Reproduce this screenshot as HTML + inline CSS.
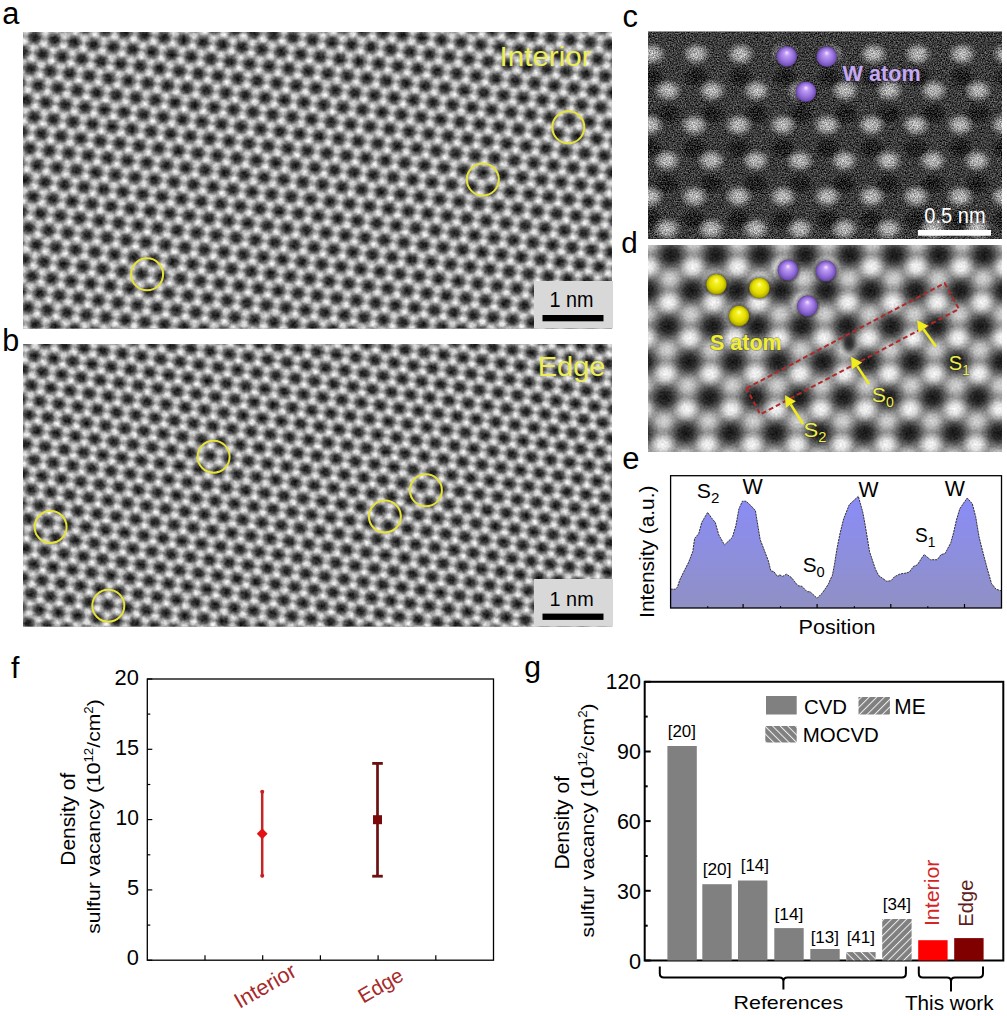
<!DOCTYPE html>
<html><head><meta charset="utf-8"><style>html,body{margin:0;padding:0;background:#fff;overflow:hidden}svg{display:block}</style></head>
<body><svg width="1007" height="1016" viewBox="0 0 1007 1016">
<defs>
<radialGradient id="pah"><stop offset="0" stop-color="#000" stop-opacity="0.85"/><stop offset="0.35" stop-color="#000" stop-opacity="0.72"/><stop offset="0.7" stop-color="#000" stop-opacity="0.3"/><stop offset="1" stop-color="#000" stop-opacity="0"/></radialGradient><radialGradient id="paw"><stop offset="0" stop-color="#fff" stop-opacity="0.9"/><stop offset="0.3" stop-color="#fff" stop-opacity="0.7"/><stop offset="0.65" stop-color="#fff" stop-opacity="0.25"/><stop offset="1" stop-color="#fff" stop-opacity="0"/></radialGradient><radialGradient id="pas"><stop offset="0" stop-color="#fff" stop-opacity="0.7"/><stop offset="0.3" stop-color="#fff" stop-opacity="0.55"/><stop offset="0.65" stop-color="#fff" stop-opacity="0.2"/><stop offset="1" stop-color="#fff" stop-opacity="0"/></radialGradient>
<pattern id="pa" patternUnits="userSpaceOnUse" width="1.0" height="1.732051" patternTransform="matrix(19.5200 2.4200 -2.4711 18.1173 34.900 37.400)">
<rect width="1.0" height="1.732051" fill="#9c9c9c"/>
<circle cx="0.0000" cy="1.7321" r="0.45" fill="url(#pah)"/>
<circle cx="0.0000" cy="0.0000" r="0.45" fill="url(#pah)"/>
<circle cx="0.5000" cy="0.8660" r="0.45" fill="url(#pah)"/>
<circle cx="1.0000" cy="1.7321" r="0.45" fill="url(#pah)"/>
<circle cx="1.0000" cy="0.0000" r="0.45" fill="url(#pah)"/>
<circle cx="0.0000" cy="0.5774" r="0.3" fill="url(#pas)"/>
<circle cx="0.5000" cy="1.4434" r="0.3" fill="url(#pas)"/>
<circle cx="0.5000" cy="-0.2887" r="0.3" fill="url(#pas)"/>
<circle cx="1.0000" cy="0.5774" r="0.3" fill="url(#pas)"/>
<circle cx="0.0000" cy="1.1547" r="0.3" fill="url(#paw)"/>
<circle cx="0.5000" cy="2.0207" r="0.3" fill="url(#paw)"/>
<circle cx="0.5000" cy="0.2887" r="0.3" fill="url(#paw)"/>
<circle cx="1.0000" cy="1.1547" r="0.3" fill="url(#paw)"/>
</pattern>
<radialGradient id="pbh"><stop offset="0" stop-color="#000" stop-opacity="0.85"/><stop offset="0.35" stop-color="#000" stop-opacity="0.72"/><stop offset="0.7" stop-color="#000" stop-opacity="0.3"/><stop offset="1" stop-color="#000" stop-opacity="0"/></radialGradient><radialGradient id="pbw"><stop offset="0" stop-color="#fff" stop-opacity="0.9"/><stop offset="0.3" stop-color="#fff" stop-opacity="0.7"/><stop offset="0.65" stop-color="#fff" stop-opacity="0.25"/><stop offset="1" stop-color="#fff" stop-opacity="0"/></radialGradient><radialGradient id="pbs"><stop offset="0" stop-color="#fff" stop-opacity="0.7"/><stop offset="0.3" stop-color="#fff" stop-opacity="0.55"/><stop offset="0.65" stop-color="#fff" stop-opacity="0.2"/><stop offset="1" stop-color="#fff" stop-opacity="0"/></radialGradient>
<pattern id="pb" patternUnits="userSpaceOnUse" width="1.0" height="1.732051" patternTransform="matrix(19.2200 2.7600 -1.6281 16.9741 34.300 355.900)">
<rect width="1.0" height="1.732051" fill="#9c9c9c"/>
<circle cx="0.0000" cy="1.7321" r="0.45" fill="url(#pbh)"/>
<circle cx="0.0000" cy="0.0000" r="0.45" fill="url(#pbh)"/>
<circle cx="0.5000" cy="0.8660" r="0.45" fill="url(#pbh)"/>
<circle cx="1.0000" cy="1.7321" r="0.45" fill="url(#pbh)"/>
<circle cx="1.0000" cy="0.0000" r="0.45" fill="url(#pbh)"/>
<circle cx="0.0000" cy="0.5774" r="0.3" fill="url(#pbs)"/>
<circle cx="0.5000" cy="1.4434" r="0.3" fill="url(#pbs)"/>
<circle cx="0.5000" cy="-0.2887" r="0.3" fill="url(#pbs)"/>
<circle cx="1.0000" cy="0.5774" r="0.3" fill="url(#pbs)"/>
<circle cx="0.0000" cy="1.1547" r="0.3" fill="url(#pbw)"/>
<circle cx="0.5000" cy="2.0207" r="0.3" fill="url(#pbw)"/>
<circle cx="0.5000" cy="0.2887" r="0.3" fill="url(#pbw)"/>
<circle cx="1.0000" cy="1.1547" r="0.3" fill="url(#pbw)"/>
</pattern>
<radialGradient id="pdh"><stop offset="0" stop-color="#000" stop-opacity="0.85"/><stop offset="0.35" stop-color="#000" stop-opacity="0.7"/><stop offset="0.7" stop-color="#000" stop-opacity="0.25"/><stop offset="1" stop-color="#000" stop-opacity="0"/></radialGradient><radialGradient id="pdw"><stop offset="0" stop-color="#fff" stop-opacity="0.92"/><stop offset="0.35" stop-color="#fff" stop-opacity="0.75"/><stop offset="0.7" stop-color="#fff" stop-opacity="0.28"/><stop offset="1" stop-color="#fff" stop-opacity="0"/></radialGradient><radialGradient id="pds"><stop offset="0" stop-color="#fff" stop-opacity="0.6"/><stop offset="0.35" stop-color="#fff" stop-opacity="0.45"/><stop offset="0.7" stop-color="#fff" stop-opacity="0.15"/><stop offset="1" stop-color="#fff" stop-opacity="0"/></radialGradient>
<pattern id="pd" patternUnits="userSpaceOnUse" width="1.0" height="1.732051" patternTransform="matrix(44.7000 0.0000 -1.7898 41.1073 671.000 255.000)">
<rect width="1.0" height="1.732051" fill="#8e8e8e"/>
<circle cx="0.0000" cy="1.7321" r="0.43" fill="url(#pdh)"/>
<circle cx="0.0000" cy="0.0000" r="0.43" fill="url(#pdh)"/>
<circle cx="0.5000" cy="0.8660" r="0.43" fill="url(#pdh)"/>
<circle cx="1.0000" cy="1.7321" r="0.43" fill="url(#pdh)"/>
<circle cx="1.0000" cy="0.0000" r="0.43" fill="url(#pdh)"/>
<circle cx="0.0000" cy="0.5774" r="0.3" fill="url(#pds)"/>
<circle cx="0.5000" cy="1.4434" r="0.3" fill="url(#pds)"/>
<circle cx="0.5000" cy="-0.2887" r="0.3" fill="url(#pds)"/>
<circle cx="1.0000" cy="0.5774" r="0.3" fill="url(#pds)"/>
<circle cx="0.0000" cy="1.1547" r="0.32" fill="url(#pdw)"/>
<circle cx="0.5000" cy="2.0207" r="0.32" fill="url(#pdw)"/>
<circle cx="0.5000" cy="0.2887" r="0.32" fill="url(#pdw)"/>
<circle cx="1.0000" cy="1.1547" r="0.32" fill="url(#pdw)"/>
</pattern>
<radialGradient id="gSh"><stop offset="0.7" stop-color="#000" stop-opacity="0.45"/><stop offset="1" stop-color="#000" stop-opacity="0"/></radialGradient>
<radialGradient id="gP" cx="0.5" cy="0.5" r="0.5" fx="0.5" fy="0.3"><stop offset="0" stop-color="#f6e8ff"/><stop offset="0.25" stop-color="#c09cf4"/><stop offset="0.65" stop-color="#9670dc"/><stop offset="0.9" stop-color="#7452b8"/><stop offset="1" stop-color="#5a3c96"/></radialGradient>
<radialGradient id="gY" cx="0.5" cy="0.5" r="0.5" fx="0.5" fy="0.3"><stop offset="0" stop-color="#ffffc0"/><stop offset="0.25" stop-color="#f6f220"/><stop offset="0.65" stop-color="#e2dc00"/><stop offset="0.9" stop-color="#b8b000"/><stop offset="1" stop-color="#807800"/></radialGradient>
<radialGradient id="gHoleC"><stop offset="0" stop-color="#000" stop-opacity="0.55"/><stop offset="0.6" stop-color="#000" stop-opacity="0.38"/><stop offset="1" stop-color="#000" stop-opacity="0"/></radialGradient>
<radialGradient id="gBlob"><stop offset="0" stop-color="#fff" stop-opacity="0.66"/><stop offset="0.4" stop-color="#fff" stop-opacity="0.52"/><stop offset="0.75" stop-color="#fff" stop-opacity="0.2"/><stop offset="1" stop-color="#fff" stop-opacity="0"/></radialGradient>
<filter id="noise" x="648" y="31.5" width="354" height="207.5" filterUnits="userSpaceOnUse" color-interpolation-filters="sRGB"><feTurbulence type="fractalNoise" baseFrequency="0.75" numOctaves="2" seed="7" result="t"/><feColorMatrix in="t" type="matrix" values="1 0 0 0 0  1 0 0 0 0  1 0 0 0 0  0 0 0 0 1" result="g"/><feGaussianBlur in="g" stdDeviation="0.35" result="gb"/><feComposite in="SourceGraphic" in2="gb" operator="arithmetic" k1="0" k2="1" k3="0.85" k4="-0.425"/></filter>
<linearGradient id="gCurve" gradientUnits="userSpaceOnUse" x1="0" y1="496" x2="0" y2="608"><stop offset="0" stop-color="#8a8cf8"/><stop offset="1" stop-color="#9090c4"/></linearGradient>
<pattern id="hME" patternUnits="userSpaceOnUse" width="5.4" height="8" patternTransform="rotate(45)"><rect width="5.4" height="8" fill="#808080"/><rect x="0" y="0" width="1" height="8" fill="#f0f0f0"/></pattern>
<pattern id="hMO" patternUnits="userSpaceOnUse" width="5.4" height="8" patternTransform="rotate(-45)"><rect width="5.4" height="8" fill="#808080"/><rect x="0" y="0" width="1" height="8" fill="#f0f0f0"/></pattern>
<filter id="nA" x="23" y="32" width="589" height="296.5" filterUnits="userSpaceOnUse" color-interpolation-filters="sRGB"><feTurbulence type="fractalNoise" baseFrequency="0.35" numOctaves="2" seed="11" result="t"/><feColorMatrix in="t" type="matrix" values="1 0 0 0 0  1 0 0 0 0  1 0 0 0 0  0 0 0 0 1" result="g"/><feComposite in="SourceGraphic" in2="g" operator="arithmetic" k1="0" k2="1" k3="0.28" k4="-0.14"/></filter>
<filter id="nB" x="23" y="344" width="589" height="282.5" filterUnits="userSpaceOnUse" color-interpolation-filters="sRGB"><feTurbulence type="fractalNoise" baseFrequency="0.35" numOctaves="2" seed="23" result="t"/><feColorMatrix in="t" type="matrix" values="1 0 0 0 0  1 0 0 0 0  1 0 0 0 0  0 0 0 0 1" result="g"/><feComposite in="SourceGraphic" in2="g" operator="arithmetic" k1="0" k2="1" k3="0.28" k4="-0.14"/></filter>
<clipPath id="clipC"><rect x="648" y="31.5" width="354" height="207.5"/></clipPath>
<filter id="nD" x="648" y="245" width="354" height="207" filterUnits="userSpaceOnUse" color-interpolation-filters="sRGB"><feTurbulence type="fractalNoise" baseFrequency="0.5" numOctaves="2" seed="5" result="t"/><feColorMatrix in="t" type="matrix" values="1 0 0 0 0  1 0 0 0 0  1 0 0 0 0  0 0 0 0 1" result="g"/><feComposite in="SourceGraphic" in2="g" operator="arithmetic" k1="0" k2="1" k3="0.2" k4="-0.1"/></filter>
</defs>
<rect x="23" y="32" width="589" height="296.5" fill="url(#pa)" filter="url(#nA)"/>
<rect x="23" y="344" width="589" height="282.5" fill="url(#pb)" filter="url(#nB)"/>
<circle cx="568.3" cy="127.3" r="16" fill="none" stroke="#e6e23a" stroke-width="2"/>
<circle cx="482.8" cy="179.6" r="16" fill="none" stroke="#e6e23a" stroke-width="2"/>
<circle cx="147.1" cy="274.3" r="16" fill="none" stroke="#e6e23a" stroke-width="2"/>
<circle cx="213.6" cy="456.7" r="16" fill="none" stroke="#e6e23a" stroke-width="2"/>
<circle cx="50.6" cy="527" r="16" fill="none" stroke="#e6e23a" stroke-width="2"/>
<circle cx="384.9" cy="516.5" r="16" fill="none" stroke="#e6e23a" stroke-width="2"/>
<circle cx="425.9" cy="490.3" r="16" fill="none" stroke="#e6e23a" stroke-width="2"/>
<circle cx="108.3" cy="605.7" r="16" fill="none" stroke="#e6e23a" stroke-width="2"/>
<rect x="534" y="281" width="79" height="47.5" fill="#d8d8d8"/>
<rect x="542.5" y="315" width="61" height="6.3" fill="#000"/>
<rect x="534" y="579" width="79" height="47.5" fill="#d8d8d8"/>
<rect x="542.5" y="613.6" width="61" height="6.3" fill="#000"/>
<g clip-path="url(#clipC)"><g filter="url(#noise)">
<rect x="648" y="31.5" width="354" height="207.5" fill="#3c3c3c"/>
<ellipse cx="563.4" cy="54" rx="15" ry="12" fill="url(#gBlob)"/>
<ellipse cx="563.4" cy="77.3" rx="14" ry="11" fill="url(#gHoleC)"/>
<ellipse cx="607.7" cy="54" rx="15" ry="12" fill="url(#gBlob)"/>
<ellipse cx="607.7" cy="77.3" rx="14" ry="11" fill="url(#gHoleC)"/>
<ellipse cx="652.0" cy="54" rx="15" ry="12" fill="url(#gBlob)"/>
<ellipse cx="652.0" cy="77.3" rx="14" ry="11" fill="url(#gHoleC)"/>
<ellipse cx="696.3" cy="54" rx="15" ry="12" fill="url(#gBlob)"/>
<ellipse cx="696.3" cy="77.3" rx="14" ry="11" fill="url(#gHoleC)"/>
<ellipse cx="740.6" cy="54" rx="15" ry="12" fill="url(#gBlob)"/>
<ellipse cx="740.6" cy="77.3" rx="14" ry="11" fill="url(#gHoleC)"/>
<ellipse cx="784.9" cy="54" rx="15" ry="12" fill="url(#gBlob)"/>
<ellipse cx="784.9" cy="77.3" rx="14" ry="11" fill="url(#gHoleC)"/>
<ellipse cx="829.2" cy="54" rx="15" ry="12" fill="url(#gBlob)"/>
<ellipse cx="829.2" cy="77.3" rx="14" ry="11" fill="url(#gHoleC)"/>
<ellipse cx="873.5" cy="54" rx="15" ry="12" fill="url(#gBlob)"/>
<ellipse cx="873.5" cy="77.3" rx="14" ry="11" fill="url(#gHoleC)"/>
<ellipse cx="917.8" cy="54" rx="15" ry="12" fill="url(#gBlob)"/>
<ellipse cx="917.8" cy="77.3" rx="14" ry="11" fill="url(#gHoleC)"/>
<ellipse cx="962.1" cy="54" rx="15" ry="12" fill="url(#gBlob)"/>
<ellipse cx="962.1" cy="77.3" rx="14" ry="11" fill="url(#gHoleC)"/>
<ellipse cx="1006.4" cy="54" rx="15" ry="12" fill="url(#gBlob)"/>
<ellipse cx="1006.4" cy="77.3" rx="14" ry="11" fill="url(#gHoleC)"/>
<ellipse cx="579.4" cy="90.5" rx="15" ry="12" fill="url(#gBlob)"/>
<ellipse cx="579.4" cy="113.8" rx="14" ry="11" fill="url(#gHoleC)"/>
<ellipse cx="623.7" cy="90.5" rx="15" ry="12" fill="url(#gBlob)"/>
<ellipse cx="623.7" cy="113.8" rx="14" ry="11" fill="url(#gHoleC)"/>
<ellipse cx="668.0" cy="90.5" rx="15" ry="12" fill="url(#gBlob)"/>
<ellipse cx="668.0" cy="113.8" rx="14" ry="11" fill="url(#gHoleC)"/>
<ellipse cx="712.3" cy="90.5" rx="15" ry="12" fill="url(#gBlob)"/>
<ellipse cx="712.3" cy="113.8" rx="14" ry="11" fill="url(#gHoleC)"/>
<ellipse cx="756.6" cy="90.5" rx="15" ry="12" fill="url(#gBlob)"/>
<ellipse cx="756.6" cy="113.8" rx="14" ry="11" fill="url(#gHoleC)"/>
<ellipse cx="800.9" cy="90.5" rx="15" ry="12" fill="url(#gBlob)"/>
<ellipse cx="800.9" cy="113.8" rx="14" ry="11" fill="url(#gHoleC)"/>
<ellipse cx="845.2" cy="90.5" rx="15" ry="12" fill="url(#gBlob)"/>
<ellipse cx="845.2" cy="113.8" rx="14" ry="11" fill="url(#gHoleC)"/>
<ellipse cx="889.5" cy="90.5" rx="15" ry="12" fill="url(#gBlob)"/>
<ellipse cx="889.5" cy="113.8" rx="14" ry="11" fill="url(#gHoleC)"/>
<ellipse cx="933.8" cy="90.5" rx="15" ry="12" fill="url(#gBlob)"/>
<ellipse cx="933.8" cy="113.8" rx="14" ry="11" fill="url(#gHoleC)"/>
<ellipse cx="978.1" cy="90.5" rx="15" ry="12" fill="url(#gBlob)"/>
<ellipse cx="978.1" cy="113.8" rx="14" ry="11" fill="url(#gHoleC)"/>
<ellipse cx="1022.4" cy="90.5" rx="15" ry="12" fill="url(#gBlob)"/>
<ellipse cx="1022.4" cy="113.8" rx="14" ry="11" fill="url(#gHoleC)"/>
<ellipse cx="561.4" cy="125" rx="15" ry="12" fill="url(#gBlob)"/>
<ellipse cx="561.4" cy="148.3" rx="14" ry="11" fill="url(#gHoleC)"/>
<ellipse cx="605.7" cy="125" rx="15" ry="12" fill="url(#gBlob)"/>
<ellipse cx="605.7" cy="148.3" rx="14" ry="11" fill="url(#gHoleC)"/>
<ellipse cx="650.0" cy="125" rx="15" ry="12" fill="url(#gBlob)"/>
<ellipse cx="650.0" cy="148.3" rx="14" ry="11" fill="url(#gHoleC)"/>
<ellipse cx="694.3" cy="125" rx="15" ry="12" fill="url(#gBlob)"/>
<ellipse cx="694.3" cy="148.3" rx="14" ry="11" fill="url(#gHoleC)"/>
<ellipse cx="738.6" cy="125" rx="15" ry="12" fill="url(#gBlob)"/>
<ellipse cx="738.6" cy="148.3" rx="14" ry="11" fill="url(#gHoleC)"/>
<ellipse cx="782.9" cy="125" rx="15" ry="12" fill="url(#gBlob)"/>
<ellipse cx="782.9" cy="148.3" rx="14" ry="11" fill="url(#gHoleC)"/>
<ellipse cx="827.2" cy="125" rx="15" ry="12" fill="url(#gBlob)"/>
<ellipse cx="827.2" cy="148.3" rx="14" ry="11" fill="url(#gHoleC)"/>
<ellipse cx="871.5" cy="125" rx="15" ry="12" fill="url(#gBlob)"/>
<ellipse cx="871.5" cy="148.3" rx="14" ry="11" fill="url(#gHoleC)"/>
<ellipse cx="915.8" cy="125" rx="15" ry="12" fill="url(#gBlob)"/>
<ellipse cx="915.8" cy="148.3" rx="14" ry="11" fill="url(#gHoleC)"/>
<ellipse cx="960.1" cy="125" rx="15" ry="12" fill="url(#gBlob)"/>
<ellipse cx="960.1" cy="148.3" rx="14" ry="11" fill="url(#gHoleC)"/>
<ellipse cx="1004.4" cy="125" rx="15" ry="12" fill="url(#gBlob)"/>
<ellipse cx="1004.4" cy="148.3" rx="14" ry="11" fill="url(#gHoleC)"/>
<ellipse cx="578.4" cy="160.6" rx="15" ry="12" fill="url(#gBlob)"/>
<ellipse cx="578.4" cy="183.9" rx="14" ry="11" fill="url(#gHoleC)"/>
<ellipse cx="622.7" cy="160.6" rx="15" ry="12" fill="url(#gBlob)"/>
<ellipse cx="622.7" cy="183.9" rx="14" ry="11" fill="url(#gHoleC)"/>
<ellipse cx="667.0" cy="160.6" rx="15" ry="12" fill="url(#gBlob)"/>
<ellipse cx="667.0" cy="183.9" rx="14" ry="11" fill="url(#gHoleC)"/>
<ellipse cx="711.3" cy="160.6" rx="15" ry="12" fill="url(#gBlob)"/>
<ellipse cx="711.3" cy="183.9" rx="14" ry="11" fill="url(#gHoleC)"/>
<ellipse cx="755.6" cy="160.6" rx="15" ry="12" fill="url(#gBlob)"/>
<ellipse cx="755.6" cy="183.9" rx="14" ry="11" fill="url(#gHoleC)"/>
<ellipse cx="799.9" cy="160.6" rx="15" ry="12" fill="url(#gBlob)"/>
<ellipse cx="799.9" cy="183.9" rx="14" ry="11" fill="url(#gHoleC)"/>
<ellipse cx="844.2" cy="160.6" rx="15" ry="12" fill="url(#gBlob)"/>
<ellipse cx="844.2" cy="183.9" rx="14" ry="11" fill="url(#gHoleC)"/>
<ellipse cx="888.5" cy="160.6" rx="15" ry="12" fill="url(#gBlob)"/>
<ellipse cx="888.5" cy="183.9" rx="14" ry="11" fill="url(#gHoleC)"/>
<ellipse cx="932.8" cy="160.6" rx="15" ry="12" fill="url(#gBlob)"/>
<ellipse cx="932.8" cy="183.9" rx="14" ry="11" fill="url(#gHoleC)"/>
<ellipse cx="977.1" cy="160.6" rx="15" ry="12" fill="url(#gBlob)"/>
<ellipse cx="977.1" cy="183.9" rx="14" ry="11" fill="url(#gHoleC)"/>
<ellipse cx="1021.4" cy="160.6" rx="15" ry="12" fill="url(#gBlob)"/>
<ellipse cx="1021.4" cy="183.9" rx="14" ry="11" fill="url(#gHoleC)"/>
<ellipse cx="561.4" cy="196.5" rx="15" ry="12" fill="url(#gBlob)"/>
<ellipse cx="561.4" cy="219.8" rx="14" ry="11" fill="url(#gHoleC)"/>
<ellipse cx="605.7" cy="196.5" rx="15" ry="12" fill="url(#gBlob)"/>
<ellipse cx="605.7" cy="219.8" rx="14" ry="11" fill="url(#gHoleC)"/>
<ellipse cx="650.0" cy="196.5" rx="15" ry="12" fill="url(#gBlob)"/>
<ellipse cx="650.0" cy="219.8" rx="14" ry="11" fill="url(#gHoleC)"/>
<ellipse cx="694.3" cy="196.5" rx="15" ry="12" fill="url(#gBlob)"/>
<ellipse cx="694.3" cy="219.8" rx="14" ry="11" fill="url(#gHoleC)"/>
<ellipse cx="738.6" cy="196.5" rx="15" ry="12" fill="url(#gBlob)"/>
<ellipse cx="738.6" cy="219.8" rx="14" ry="11" fill="url(#gHoleC)"/>
<ellipse cx="782.9" cy="196.5" rx="15" ry="12" fill="url(#gBlob)"/>
<ellipse cx="782.9" cy="219.8" rx="14" ry="11" fill="url(#gHoleC)"/>
<ellipse cx="827.2" cy="196.5" rx="15" ry="12" fill="url(#gBlob)"/>
<ellipse cx="827.2" cy="219.8" rx="14" ry="11" fill="url(#gHoleC)"/>
<ellipse cx="871.5" cy="196.5" rx="15" ry="12" fill="url(#gBlob)"/>
<ellipse cx="871.5" cy="219.8" rx="14" ry="11" fill="url(#gHoleC)"/>
<ellipse cx="915.8" cy="196.5" rx="15" ry="12" fill="url(#gBlob)"/>
<ellipse cx="915.8" cy="219.8" rx="14" ry="11" fill="url(#gHoleC)"/>
<ellipse cx="960.1" cy="196.5" rx="15" ry="12" fill="url(#gBlob)"/>
<ellipse cx="960.1" cy="219.8" rx="14" ry="11" fill="url(#gHoleC)"/>
<ellipse cx="1004.4" cy="196.5" rx="15" ry="12" fill="url(#gBlob)"/>
<ellipse cx="1004.4" cy="219.8" rx="14" ry="11" fill="url(#gHoleC)"/>
<ellipse cx="578.4" cy="228.8" rx="15" ry="12" fill="url(#gBlob)"/>
<ellipse cx="578.4" cy="252.1" rx="14" ry="11" fill="url(#gHoleC)"/>
<ellipse cx="622.7" cy="228.8" rx="15" ry="12" fill="url(#gBlob)"/>
<ellipse cx="622.7" cy="252.1" rx="14" ry="11" fill="url(#gHoleC)"/>
<ellipse cx="667.0" cy="228.8" rx="15" ry="12" fill="url(#gBlob)"/>
<ellipse cx="667.0" cy="252.1" rx="14" ry="11" fill="url(#gHoleC)"/>
<ellipse cx="711.3" cy="228.8" rx="15" ry="12" fill="url(#gBlob)"/>
<ellipse cx="711.3" cy="252.1" rx="14" ry="11" fill="url(#gHoleC)"/>
<ellipse cx="755.6" cy="228.8" rx="15" ry="12" fill="url(#gBlob)"/>
<ellipse cx="755.6" cy="252.1" rx="14" ry="11" fill="url(#gHoleC)"/>
<ellipse cx="799.9" cy="228.8" rx="15" ry="12" fill="url(#gBlob)"/>
<ellipse cx="799.9" cy="252.1" rx="14" ry="11" fill="url(#gHoleC)"/>
<ellipse cx="844.2" cy="228.8" rx="15" ry="12" fill="url(#gBlob)"/>
<ellipse cx="844.2" cy="252.1" rx="14" ry="11" fill="url(#gHoleC)"/>
<ellipse cx="888.5" cy="228.8" rx="15" ry="12" fill="url(#gBlob)"/>
<ellipse cx="888.5" cy="252.1" rx="14" ry="11" fill="url(#gHoleC)"/>
<ellipse cx="932.8" cy="228.8" rx="15" ry="12" fill="url(#gBlob)"/>
<ellipse cx="932.8" cy="252.1" rx="14" ry="11" fill="url(#gHoleC)"/>
<ellipse cx="977.1" cy="228.8" rx="15" ry="12" fill="url(#gBlob)"/>
<ellipse cx="977.1" cy="252.1" rx="14" ry="11" fill="url(#gHoleC)"/>
<ellipse cx="1021.4" cy="228.8" rx="15" ry="12" fill="url(#gBlob)"/>
<ellipse cx="1021.4" cy="252.1" rx="14" ry="11" fill="url(#gHoleC)"/>
</g></g>
<rect x="918" y="230" width="73" height="5.7" fill="#fff"/>
<circle cx="786.8" cy="56.5" r="13.5" fill="url(#gSh)"/><circle cx="786.8" cy="56.5" r="10.3" fill="url(#gP)"/>
<circle cx="826.7" cy="56.8" r="13.5" fill="url(#gSh)"/><circle cx="826.7" cy="56.8" r="10.3" fill="url(#gP)"/>
<circle cx="806" cy="91.7" r="13.5" fill="url(#gSh)"/><circle cx="806" cy="91.7" r="10.3" fill="url(#gP)"/>
<rect x="648" y="245" width="354" height="207" fill="url(#pd)" filter="url(#nD)"/>
<circle cx="716.4" cy="284.3" r="13.5" fill="url(#gSh)"/><circle cx="716.4" cy="284.3" r="10.4" fill="url(#gY)"/>
<circle cx="759.4" cy="288.1" r="13.5" fill="url(#gSh)"/><circle cx="759.4" cy="288.1" r="10.4" fill="url(#gY)"/>
<circle cx="739" cy="316" r="13.5" fill="url(#gSh)"/><circle cx="739" cy="316" r="10.4" fill="url(#gY)"/>
<circle cx="788" cy="270.2" r="13.5" fill="url(#gSh)"/><circle cx="788" cy="270.2" r="10.4" fill="url(#gP)"/>
<circle cx="826" cy="271" r="13.5" fill="url(#gSh)"/><circle cx="826" cy="271" r="10.4" fill="url(#gP)"/>
<circle cx="807.4" cy="306" r="13.5" fill="url(#gSh)"/><circle cx="807.4" cy="306" r="10.4" fill="url(#gP)"/>
<ellipse cx="849" cy="344" rx="9" ry="12" fill="url(#gHoleC)"/><ellipse cx="849" cy="344" rx="6" ry="8" fill="url(#gHoleC)"/>
<polygon points="746.5,388.3 944.6,283.2 958.9,309 760.3,414.4" fill="none" stroke="#b02a2a" stroke-width="2" stroke-dasharray="5,3"/>
<line x1="803" y1="424" x2="790.8" y2="404.5" stroke="#f0ec20" stroke-width="2.5"/><polygon points="785,395.2 795.9,401.3 785.7,407.7" fill="#f0ec20"/>
<line x1="869" y1="384" x2="857.1" y2="365.9" stroke="#f0ec20" stroke-width="2.5"/><polygon points="851,356.7 862.1,362.6 852.0,369.2" fill="#f0ec20"/>
<line x1="936" y1="346.5" x2="923.5" y2="329.2" stroke="#f0ec20" stroke-width="2.5"/><polygon points="917,320.3 928.3,325.7 918.6,332.7" fill="#f0ec20"/>
<polygon points="670.6,608 670.6,589.2 675.7,589.2 677.5,586.9 679.8,579.8 684.5,570.3 688.7,562.1 692.8,551.4 694.6,538.4 698.7,533.7 701.7,522.5 707.6,512.4 712.3,518.9 715.3,522.5 718.8,534.9 724.5,544.9 732.4,537.3 735.9,525.4 738.9,508.9 742.4,501.2 746,501.2 750.7,505.4 755.4,510.7 760.2,539.6 768.4,560.9 770.8,570.9 773.7,571.5 777.9,576.8 779.4,574.7 782.6,576.4 786.5,574.2 791.4,577.5 797.9,585.7 801.8,586.2 807.2,591.7 810,591.7 817.1,598.2 822.5,592.8 828.5,584 830,580.1 832.3,575.6 834.5,564.2 836.8,549.5 840.2,532.5 843.6,519 849.2,504.8 858.3,496.3 862.8,512.2 865.1,524.6 869.6,551.8 875.3,568.8 878.7,575.6 886.6,581.2 891.1,580.7 894.5,576.7 900.2,573.9 904.7,573.3 909.2,572.2 913.4,566.5 917.4,564.8 921.3,558.6 924.2,554.6 927,556.9 930.4,559.7 937.2,559.7 941.1,554.6 945.1,553.5 950.8,542.7 953.6,532.6 956.4,520.1 959.8,508.8 963.2,503.7 967.2,498 972.3,503.7 975.7,516.7 979.1,537.1 982.5,550.7 987,567.7 991.5,583.5 996,589.2 1001.5,590.9 1001.5,608" fill="url(#gCurve)"/>
<polyline points="670.6,589.2 675.7,589.2 677.5,586.9 679.8,579.8 684.5,570.3 688.7,562.1 692.8,551.4 694.6,538.4 698.7,533.7 701.7,522.5 707.6,512.4 712.3,518.9 715.3,522.5 718.8,534.9 724.5,544.9 732.4,537.3 735.9,525.4 738.9,508.9 742.4,501.2 746,501.2 750.7,505.4 755.4,510.7 760.2,539.6 768.4,560.9 770.8,570.9 773.7,571.5 777.9,576.8 779.4,574.7 782.6,576.4 786.5,574.2 791.4,577.5 797.9,585.7 801.8,586.2 807.2,591.7 810,591.7 817.1,598.2 822.5,592.8 828.5,584 830,580.1 832.3,575.6 834.5,564.2 836.8,549.5 840.2,532.5 843.6,519 849.2,504.8 858.3,496.3 862.8,512.2 865.1,524.6 869.6,551.8 875.3,568.8 878.7,575.6 886.6,581.2 891.1,580.7 894.5,576.7 900.2,573.9 904.7,573.3 909.2,572.2 913.4,566.5 917.4,564.8 921.3,558.6 924.2,554.6 927,556.9 930.4,559.7 937.2,559.7 941.1,554.6 945.1,553.5 950.8,542.7 953.6,532.6 956.4,520.1 959.8,508.8 963.2,503.7 967.2,498 972.3,503.7 975.7,516.7 979.1,537.1 982.5,550.7 987,567.7 991.5,583.5 996,589.2 1001.5,590.9" fill="none" stroke="#222" stroke-width="0.9" stroke-dasharray="2.2,0.8"/>
<rect x="670.6" y="475.7" width="330.9" height="132.3" fill="none" stroke="#000" stroke-width="1.3"/>
<line x1="707.7" y1="608" x2="707.7" y2="606.2" stroke="#000" stroke-width="1.2"/>
<line x1="743.1" y1="608" x2="743.1" y2="604" stroke="#000" stroke-width="1.2"/>
<line x1="780.5" y1="608" x2="780.5" y2="606.2" stroke="#000" stroke-width="1.2"/>
<line x1="817.1" y1="608" x2="817.1" y2="604" stroke="#000" stroke-width="1.2"/>
<line x1="854.4" y1="608" x2="854.4" y2="606.2" stroke="#000" stroke-width="1.2"/>
<line x1="890.8" y1="608" x2="890.8" y2="604" stroke="#000" stroke-width="1.2"/>
<line x1="927.8" y1="608" x2="927.8" y2="606.2" stroke="#000" stroke-width="1.2"/>
<line x1="964.5" y1="608" x2="964.5" y2="604" stroke="#000" stroke-width="1.2"/>
<rect x="147.3" y="679.0" width="346.2" height="281.20000000000005" fill="none" stroke="#000" stroke-width="1.3"/>
<line x1="147.3" y1="960.2" x2="152.3" y2="960.2" stroke="#000" stroke-width="1.2"/>
<line x1="147.3" y1="889.9" x2="152.3" y2="889.9" stroke="#000" stroke-width="1.2"/>
<line x1="147.3" y1="819.6" x2="152.3" y2="819.6" stroke="#000" stroke-width="1.2"/>
<line x1="147.3" y1="749.3" x2="152.3" y2="749.3" stroke="#000" stroke-width="1.2"/>
<line x1="147.3" y1="679.0" x2="152.3" y2="679.0" stroke="#000" stroke-width="1.2"/>
<line x1="147.3" y1="925.1" x2="150.3" y2="925.1" stroke="#000" stroke-width="1.2"/>
<line x1="147.3" y1="854.8" x2="150.3" y2="854.8" stroke="#000" stroke-width="1.2"/>
<line x1="147.3" y1="784.5" x2="150.3" y2="784.5" stroke="#000" stroke-width="1.2"/>
<line x1="147.3" y1="714.1" x2="150.3" y2="714.1" stroke="#000" stroke-width="1.2"/>
<line x1="205.0" y1="960.2" x2="205.0" y2="955.2" stroke="#000" stroke-width="1.2"/>
<line x1="262.7" y1="960.2" x2="262.7" y2="955.2" stroke="#000" stroke-width="1.2"/>
<line x1="320.4" y1="960.2" x2="320.4" y2="955.2" stroke="#000" stroke-width="1.2"/>
<line x1="378.1" y1="960.2" x2="378.1" y2="955.2" stroke="#000" stroke-width="1.2"/>
<line x1="435.8" y1="960.2" x2="435.8" y2="955.2" stroke="#000" stroke-width="1.2"/>
<line x1="262.2" y1="791.5" x2="262.2" y2="876" stroke="#c42626" stroke-width="2.5" stroke-linecap="round"/>
<circle cx="262.2" cy="791.8" r="2" fill="#c42222"/><circle cx="262.2" cy="875.8" r="2" fill="#c42222"/>
<polygon points="262.2,828.2 267.6,833.7 262.2,839.2 256.8,833.7" fill="#e01414"/>
<line x1="377.5" y1="763.4" x2="377.5" y2="876.2" stroke="#6a1010" stroke-width="2.7"/>
<line x1="372.2" y1="763.4" x2="382.8" y2="763.4" stroke="#6a1010" stroke-width="2.8"/>
<line x1="372.2" y1="876.2" x2="382.8" y2="876.2" stroke="#6a1010" stroke-width="2.8"/>
<rect x="373" y="815.2" width="9" height="9" fill="#7a0a0a"/>
<rect x="644.7" y="681.8" width="358.5999999999999" height="278.70000000000005" fill="none" stroke="#000" stroke-width="2"/>
<line x1="644.7" y1="960.5" x2="650.7" y2="960.5" stroke="#000" stroke-width="2"/>
<line x1="644.7" y1="890.8" x2="650.7" y2="890.8" stroke="#000" stroke-width="2"/>
<line x1="644.7" y1="821.1" x2="650.7" y2="821.1" stroke="#000" stroke-width="2"/>
<line x1="644.7" y1="751.5" x2="650.7" y2="751.5" stroke="#000" stroke-width="2"/>
<line x1="644.7" y1="681.8" x2="650.7" y2="681.8" stroke="#000" stroke-width="2"/>
<line x1="644.7" y1="925.7" x2="647.7" y2="925.7" stroke="#000" stroke-width="2"/>
<line x1="644.7" y1="856.0" x2="647.7" y2="856.0" stroke="#000" stroke-width="2"/>
<line x1="644.7" y1="786.3" x2="647.7" y2="786.3" stroke="#000" stroke-width="2"/>
<line x1="644.7" y1="716.6" x2="647.7" y2="716.6" stroke="#000" stroke-width="2"/>
<rect x="667.4" y="746" width="29.4" height="214.5" fill="#808080"/>
<rect x="702.3" y="884.2" width="29.4" height="76.29999999999995" fill="#808080"/>
<rect x="738" y="880.5" width="29.4" height="80.0" fill="#808080"/>
<rect x="774.3" y="928.1" width="29.4" height="32.39999999999998" fill="#808080"/>
<rect x="810.3" y="949" width="29.4" height="11.5" fill="#808080"/>
<rect x="846.2" y="952.1" width="29.4" height="8.399999999999977" fill="url(#hMO)"/>
<rect x="882.2" y="919" width="29.4" height="41.5" fill="url(#hME)"/>
<rect x="918.2" y="940.2" width="29.4" height="20.299999999999955" fill="#ff0000"/>
<rect x="954.2" y="938.1" width="29.4" height="22.399999999999977" fill="#800000"/>
<rect x="766" y="696" width="30.7" height="18.5" fill="#808080"/>
<rect x="858.5" y="697" width="31.4" height="17.5" fill="url(#hME)"/>
<rect x="765.3" y="726" width="31.4" height="16.5" fill="url(#hMO)"/>
<path d="M659.8,966.5 L659.8,973.6 Q659.8,977.6 663.8,977.6 L779.4,977.6 Q783.4,977.6 783.4,981.6 L783.4,989.4 M783.4,981.6 Q783.4,977.6 787.4,977.6 L901.9,977.6 Q905.9,977.6 905.9,973.6 L905.9,966.5" fill="none" stroke="#000" stroke-width="2"/>
<path d="M918.8,966.5 L918.8,973.6 Q918.8,977.6 922.8,977.6 L947,977.6 Q951,977.6 951,981.6 L951,991.6 M951,981.6 Q951,977.6 955,977.6 L979,977.6 Q983,977.6 983,973.6 L983,966.5" fill="none" stroke="#000" stroke-width="2"/>
<text x="2.32" y="23.85" font-family="Liberation Sans, sans-serif" font-size="30.83" >a</text>
<text x="2.28" y="351.15" font-family="Liberation Sans, sans-serif" font-size="30.54" >b</text>
<text x="622.59" y="26.64" font-family="Liberation Sans, sans-serif" font-size="30.80" >c</text>
<text x="621.34" y="252.55" font-family="Liberation Sans, sans-serif" font-size="29.54" >d</text>
<text x="622.14" y="468.82" font-family="Liberation Sans, sans-serif" font-size="31.00" >e</text>
<text x="11.03" y="678.23" font-family="Liberation Sans, sans-serif" font-size="30.20" >f</text>
<text x="524.34" y="676.66" font-family="Liberation Sans, sans-serif" font-size="30.12" >g</text>
<text x="499.52" y="66.32" font-family="Liberation Sans, sans-serif" font-size="28.52" textLength="92.02" lengthAdjust="spacingAndGlyphs" fill="#eded55">Interior</text>
<text x="537.65" y="375.95" font-family="Liberation Sans, sans-serif" font-size="27.84" textLength="67.91" lengthAdjust="spacingAndGlyphs" fill="#eded55">Edge</text>
<text x="549.48" y="306.58" font-family="Liberation Sans, sans-serif" font-size="21.49" textLength="44.01" lengthAdjust="spacingAndGlyphs" >1 nm</text>
<text x="549.59" y="606.10" font-family="Liberation Sans, sans-serif" font-size="19.46" textLength="44.10" lengthAdjust="spacingAndGlyphs" >1 nm</text>
<text x="924.31" y="222.53" font-family="Liberation Sans, sans-serif" font-size="21.35" textLength="61.40" lengthAdjust="spacingAndGlyphs" fill="#fff">0.5 nm</text>
<text x="842.53" y="80.95" font-family="Liberation Sans, sans-serif" font-size="22.54" textLength="78.17" lengthAdjust="spacingAndGlyphs" font-weight="bold" fill="#c4a8f0" stroke="rgba(30,15,50,0.3)" stroke-width="2" paint-order="stroke">W atom</text>
<text x="709.93" y="349.89" font-family="Liberation Sans, sans-serif" font-size="22.51" textLength="71.73" lengthAdjust="spacingAndGlyphs" font-weight="bold" fill="#f0ee30" stroke="rgba(30,30,0,0.3)" stroke-width="2" paint-order="stroke">S atom</text>
<text x="803.60" y="437.39" font-family="Liberation Sans, sans-serif" font-size="21.07" textLength="22.94" lengthAdjust="spacingAndGlyphs" fill="#eeee50" stroke="rgba(20,20,0,0.3)" stroke-width="1.5" paint-order="stroke">S<tspan font-size="14" dy="4.5">2</tspan></text>
<text x="871.76" y="402.33" font-family="Liberation Sans, sans-serif" font-size="21.13" textLength="22.07" lengthAdjust="spacingAndGlyphs" fill="#eeee50" stroke="rgba(20,20,0,0.3)" stroke-width="1.5" paint-order="stroke">S<tspan font-size="14" dy="4.5">0</tspan></text>
<text x="948.84" y="370.39" font-family="Liberation Sans, sans-serif" font-size="21.07" textLength="20.90" lengthAdjust="spacingAndGlyphs" fill="#eeee50" stroke="rgba(20,20,0,0.3)" stroke-width="1.5" paint-order="stroke">S<tspan font-size="14" dy="4.5">1</tspan></text>
<text x="696.82" y="498.44" font-family="Liberation Sans, sans-serif" font-size="19.67" textLength="22.61" lengthAdjust="spacingAndGlyphs" >S<tspan font-size="14" dy="4.5">2</tspan></text>
<text x="742.52" y="493.99" font-family="Liberation Sans, sans-serif" font-size="21.47" >W</text>
<text x="802.66" y="572.29" font-family="Liberation Sans, sans-serif" font-size="19.83" textLength="22.00" lengthAdjust="spacingAndGlyphs" >S<tspan font-size="14" dy="4.5">0</tspan></text>
<text x="858.43" y="496.54" font-family="Liberation Sans, sans-serif" font-size="21.21" >W</text>
<text x="915.12" y="542.19" font-family="Liberation Sans, sans-serif" font-size="19.52" textLength="20.35" lengthAdjust="spacingAndGlyphs" >S<tspan font-size="14" dy="4.5">1</tspan></text>
<text x="944.71" y="496.04" font-family="Liberation Sans, sans-serif" font-size="21.36" >W</text>
<text transform="translate(654.30,617.93) rotate(-90)" font-family="Liberation Sans, sans-serif" font-size="19.34" textLength="132.42" lengthAdjust="spacingAndGlyphs" >Intensity (a.u.)</text>
<text x="798.64" y="633.72" font-family="Liberation Sans, sans-serif" font-size="20.21" textLength="76.78" lengthAdjust="spacingAndGlyphs" >Position</text>
<text x="114.60" y="684.56" font-family="Liberation Sans, sans-serif" font-size="22.00" textLength="24.34" lengthAdjust="spacingAndGlyphs" >20</text>
<text x="114.91" y="754.90" font-family="Liberation Sans, sans-serif" font-size="21.93" textLength="24.06" lengthAdjust="spacingAndGlyphs" >15</text>
<text x="115.49" y="825.16" font-family="Liberation Sans, sans-serif" font-size="22.16" textLength="23.36" lengthAdjust="spacingAndGlyphs" >10</text>
<text x="126.96" y="895.39" font-family="Liberation Sans, sans-serif" font-size="21.78" >5</text>
<text x="126.82" y="964.77" font-family="Liberation Sans, sans-serif" font-size="21.83" >0</text>
<text transform="translate(75.41,865.69) rotate(-90)" font-family="Liberation Sans, sans-serif" font-size="19.60" textLength="92.93" lengthAdjust="spacingAndGlyphs" >Density of</text>
<text transform="translate(99.86,933.87) rotate(-90)" font-family="Liberation Sans, sans-serif" font-size="19.00" textLength="234.61" lengthAdjust="spacingAndGlyphs" >sulfur vacancy (10<tspan font-size="12" dy="-7">12</tspan><tspan dy="7">/cm</tspan><tspan font-size="12" dy="-7">2</tspan><tspan dy="7">)</tspan></text>
<text transform="translate(268.77,992.21) rotate(-30)" text-anchor="middle" font-family="Liberation Sans, sans-serif" font-size="21.71" fill="#a62a2a">Interior</text>
<text transform="translate(384.18,991.65) rotate(-30)" text-anchor="middle" font-family="Liberation Sans, sans-serif" font-size="20.60" fill="#a62a2a">Edge</text>
<text x="605.77" y="689.25" font-family="Liberation Sans, sans-serif" font-size="21.63" textLength="35.09" lengthAdjust="spacingAndGlyphs" >120</text>
<text x="617.02" y="758.80" font-family="Liberation Sans, sans-serif" font-size="21.53" textLength="23.81" lengthAdjust="spacingAndGlyphs" >90</text>
<text x="616.88" y="829.32" font-family="Liberation Sans, sans-serif" font-size="21.50" textLength="23.95" lengthAdjust="spacingAndGlyphs" >60</text>
<text x="617.03" y="898.74" font-family="Liberation Sans, sans-serif" font-size="21.28" textLength="23.77" lengthAdjust="spacingAndGlyphs" >30</text>
<text x="628.96" y="968.78" font-family="Liberation Sans, sans-serif" font-size="21.80" >0</text>
<text transform="translate(568.80,869.62) rotate(-90)" font-family="Liberation Sans, sans-serif" font-size="19.34" textLength="93.65" lengthAdjust="spacingAndGlyphs" >Density of</text>
<text transform="translate(593.80,937.39) rotate(-90)" font-family="Liberation Sans, sans-serif" font-size="19.00" textLength="233.96" lengthAdjust="spacingAndGlyphs" >sulfur vacancy (10<tspan font-size="12" dy="-7">12</tspan><tspan dy="7">/cm</tspan><tspan font-size="12" dy="-7">2</tspan><tspan dy="7">)</tspan></text>
<text x="667.75" y="737.10" font-family="Liberation Sans, sans-serif" font-size="15.85" textLength="28.18" lengthAdjust="spacingAndGlyphs" >[20]</text>
<text x="702.72" y="874.80" font-family="Liberation Sans, sans-serif" font-size="15.92" textLength="28.73" lengthAdjust="spacingAndGlyphs" >[20]</text>
<text x="740.69" y="870.80" font-family="Liberation Sans, sans-serif" font-size="15.92" textLength="28.24" lengthAdjust="spacingAndGlyphs" >[14]</text>
<text x="774.40" y="920.40" font-family="Liberation Sans, sans-serif" font-size="15.92" textLength="29.07" lengthAdjust="spacingAndGlyphs" >[14]</text>
<text x="810.65" y="943.20" font-family="Liberation Sans, sans-serif" font-size="15.69" textLength="28.43" lengthAdjust="spacingAndGlyphs" >[13]</text>
<text x="846.65" y="943.20" font-family="Liberation Sans, sans-serif" font-size="15.69" textLength="28.43" lengthAdjust="spacingAndGlyphs" >[41]</text>
<text x="882.73" y="910.25" font-family="Liberation Sans, sans-serif" font-size="15.76" textLength="28.34" lengthAdjust="spacingAndGlyphs" >[34]</text>
<text transform="translate(939.31,926.12) rotate(-90)" font-family="Liberation Sans, sans-serif" font-size="19.59" textLength="66.52" lengthAdjust="spacingAndGlyphs" fill="#d42424">Interior</text>
<text transform="translate(972.81,926.71) rotate(-90)" font-family="Liberation Sans, sans-serif" font-size="19.81" textLength="47.17" lengthAdjust="spacingAndGlyphs" fill="#5e1c1c">Edge</text>
<text x="803.95" y="713.70" font-family="Liberation Sans, sans-serif" font-size="20.92" textLength="42.98" lengthAdjust="spacingAndGlyphs" >CVD</text>
<text x="894.32" y="714.00" font-family="Liberation Sans, sans-serif" font-size="21.38" textLength="31.21" lengthAdjust="spacingAndGlyphs" >ME</text>
<text x="802.76" y="742.35" font-family="Liberation Sans, sans-serif" font-size="21.13" textLength="76.12" lengthAdjust="spacingAndGlyphs" >MOCVD</text>
<text x="733.54" y="1009.31" font-family="Liberation Sans, sans-serif" font-size="19.13" textLength="109.59" lengthAdjust="spacingAndGlyphs" >References</text>
<text x="904.98" y="1010.21" font-family="Liberation Sans, sans-serif" font-size="19.41" textLength="88.51" lengthAdjust="spacingAndGlyphs" >This work</text>
</svg></body></html>
